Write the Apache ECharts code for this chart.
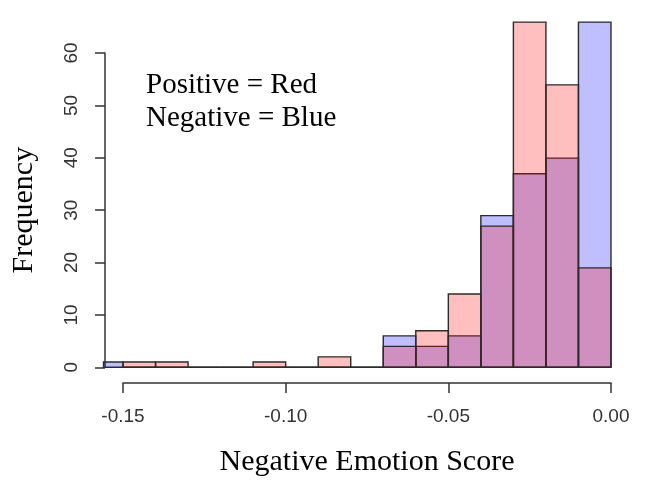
<!DOCTYPE html>
<html>
<head>
<meta charset="utf-8">
<script src="https://cdn.jsdelivr.net/npm/echarts@6/dist/echarts.min.js"></script>
<style>
  html, body { margin: 0; padding: 0; background: #fff; }
  #chart { width: 646px; height: 498px; }
</style>
</head>
<body>
<div id="chart"></div>
<script>
// histogram bins, width 0.01 (left edges)
const binWidth = 0.01
const negativeStarts = [-0.16, -0.15, -0.14, -0.13, -0.12, -0.11, -0.10, -0.09, -0.08, -0.07, -0.06, -0.05, -0.04, -0.03, -0.02, -0.01]
const negativeCounts = [1, 0, 0, 0, 0, 0, 0, 0, 0, 6, 4, 6, 29, 37, 40, 66]
const positiveStarts = [-0.15, -0.14, -0.13, -0.12, -0.11, -0.10, -0.09, -0.08, -0.07, -0.06, -0.05, -0.04, -0.03, -0.02, -0.01]
const positiveCounts = [1, 1, 0, 0, 1, 0, 2, 0, 4, 7, 14, 27, 66, 54, 19]

const xTicks = [-0.15, 0]
const yTicks = [0, 60]

const toBins = (starts, counts) =>
  starts.map((s, i) => [s, +(s + binWidth).toFixed(3), counts[i]])

const renderBin = fill => (params, api) => {
  const p0 = api.coord([api.value(0), api.value(2)])
  const p1 = api.coord([api.value(1), 0])
  const shape = echarts.graphic.clipRectByRect(
    { x: p0[0], y: p0[1], width: p1[0] - p0[0], height: p1[1] - p0[1] },
    { x: params.coordSys.x, y: params.coordSys.y, width: params.coordSys.width, height: params.coordSys.height }
  )
  if (!shape) return
  return {
    type: 'rect',
    shape,
    style: { fill, stroke: '#2b2b2b', lineWidth: 1.4 },
  }
}

const chart = echarts.init(document.getElementById('chart'), null, { renderer: 'canvas' })

const tickFont = { fontFamily: 'Liberation Sans', fontSize: 19, color: '#333' }
const nameFont = { fontFamily: 'Liberation Serif', fontSize: 30, color: '#000' }
const axisLineStyle = { color: '#333', width: 1.5 }

const option = {
  backgroundColor: '#fff',
  animation: false,
  title: {
    text: 'Positive = Red\nNegative = Blue',
    left: 141,
    top: 64,
    textStyle: { fontFamily: 'Liberation Serif', fontSize: 29, fontWeight: 'normal', color: '#000', lineHeight: 33 },
  },
  grid: [
    // plotting region (R usr)
    { left: 103.5, right: 15.5, top: 8.3, bottom: 116.9 },
    // x axis drawn below the plot
    { left: 123, right: 35, top: 8.3, bottom: 115 },
    // y axis 0..60
    { left: 105, right: 35, top: 53, bottom: 130.7 },
  ],
  xAxis: [
    { gridIndex: 0, type: 'value', min: -0.156, max: 0.006, show: false },
    {
      gridIndex: 1, type: 'value', min: xTicks[0], max: xTicks[1], interval: 0.05,
      position: 'bottom',
      axisLine: { show: true, lineStyle: axisLineStyle },
      axisTick: { show: true, length: 10, lineStyle: axisLineStyle },
      axisLabel: { ...tickFont, margin: 24, formatter: v => v.toFixed(2) },
      splitLine: { show: false },
      name: 'Negative Emotion Score',
      nameLocation: 'middle',
      nameGap: 64,
      nameTextStyle: nameFont,
    },
    { gridIndex: 2, type: 'value', min: 0, max: 1, show: false },
  ],
  yAxis: [
    { gridIndex: 0, type: 'value', min: -2.64, max: 68.64, show: false },
    { gridIndex: 1, type: 'value', min: 0, max: 1, show: false },
    {
      gridIndex: 2, type: 'value', min: yTicks[0], max: yTicks[1], interval: 10,
      position: 'left',
      axisLine: { show: true, lineStyle: axisLineStyle },
      axisTick: { show: true, length: 10, lineStyle: axisLineStyle },
      axisLabel: { ...tickFont, rotate: 90, margin: 24 },
      splitLine: { show: false },
      name: 'Frequency',
      nameLocation: 'middle',
      nameRotate: 90,
      nameGap: 66,
      nameTextStyle: nameFont,
    },
  ],
  series: [
    {
      name: 'Negative',
      type: 'custom',
      xAxisIndex: 0,
      yAxisIndex: 0,
      renderItem: renderBin('rgba(0,0,255,0.25)'),
      encode: { x: [0, 1], y: 2 },
      data: toBins(negativeStarts, negativeCounts),
      z: 2,
    },
    {
      name: 'Positive',
      type: 'custom',
      xAxisIndex: 0,
      yAxisIndex: 0,
      renderItem: renderBin('rgba(255,0,0,0.25)'),
      encode: { x: [0, 1], y: 2 },
      data: toBins(positiveStarts, positiveCounts),
      z: 3,
    },
  ],
}

chart.setOption(option)
</script>
</body>
</html>
